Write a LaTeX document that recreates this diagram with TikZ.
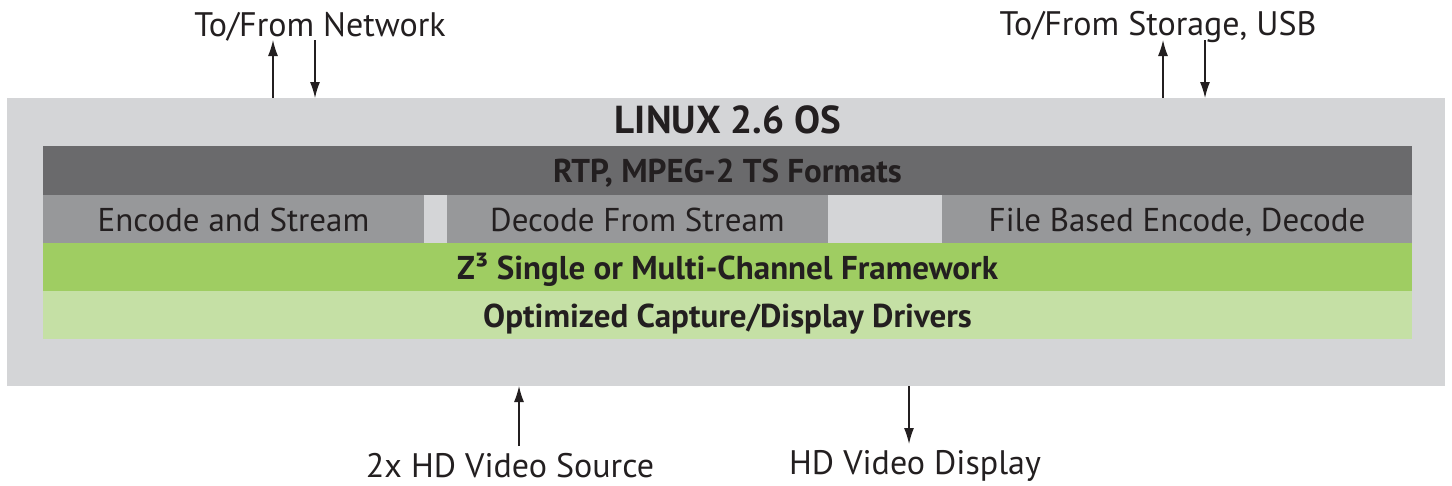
\documentclass[tikz,border=0pt]{standalone}
\usepackage{fontspec}
\setmainfont{PT Sans}
\usetikzlibrary{arrows.meta}
\definecolor{outerbg}{HTML}{D4D5D7}
\definecolor{darkband}{HTML}{6A6A6C}
\definecolor{midband}{HTML}{97989A}
\definecolor{greenband}{HTML}{9FCD62}
\definecolor{lightgreen}{HTML}{C5E0A5}
\definecolor{txt}{HTML}{231F20}
\begin{document}
\begin{tikzpicture}[x=1pt,y=-1pt,
  band/.style={draw=none, inner sep=0pt, outer sep=0pt, anchor=north west, text=txt, text height=25pt, text depth=1pt},
  bandbold/.style={band, font=\fontsize{33}{38}\selectfont\bfseries},
  bandreg/.style={band, font=\fontsize{33}{38}\selectfont},
  lbl/.style={text=txt, font=\fontsize{34}{38}\selectfont, inner sep=0pt},
  arr/.style={line width=1.3pt, draw=txt, -{Latex[length=16pt,width=10pt]}}]
\useasboundingbox (0,0) rectangle (1452,485);
\node[draw=none, fill=outerbg, inner sep=0pt, outer sep=0pt, anchor=north west, minimum width=1438pt, minimum height=288pt] (outer) at (7,98) {};
\node[text=txt, font=\fontsize{39}{44}\selectfont\bfseries, inner sep=0pt] (title) at (728,120) {LINUX 2.6 OS};
\node[bandbold, fill=darkband, minimum width=1369pt, minimum height=49pt] (rtp) at (43,146) {RTP, MPEG-2 TS Formats};
\node[bandreg, fill=midband, minimum width=381pt, minimum height=48pt] (enc) at (43,195) {Encode and Stream};
\node[bandreg, fill=midband, minimum width=381pt, minimum height=48pt] (dec) at (447,195) {Decode From Stream};
\node[bandreg, fill=midband, minimum width=470pt, minimum height=48pt] (file) at (942,195) {File Based Encode, Decode};
\node[bandbold, fill=greenband, minimum width=1369pt, minimum height=48pt] (z3) at (43,243) {Z³ Single or Multi-Channel Framework};
\node[bandbold, fill=lightgreen, minimum width=1369pt, minimum height=48pt] (drv) at (43,291) {Optimized Capture/Display Drivers};
\node[lbl] (net) at (320,27) {To/From Network};
\node[lbl] (sto) at (1158,27) {To/From Storage, USB};
\node[lbl] (src) at (510,466) {2x HD Video Source};
\node[lbl] (disp) at (915,466) {HD Video Display};
\coordinate (netup) at (273,40);
\coordinate (netdn) at (315,40);
\coordinate (stoup) at (1163,40);
\coordinate (stodn) at (1205,40);
\coordinate (srcup) at (519,446);
\coordinate (dispdn) at (909,444);
\draw[arr] (netup |- outer.north) -- (netup);
\draw[arr] (netdn) -- (netdn |- outer.north);
\draw[arr] (stoup |- outer.north) -- (stoup);
\draw[arr] (stodn) -- (stodn |- outer.north);
\draw[arr] (srcup) -- (srcup |- outer.south);
\draw[arr] (dispdn |- outer.south) -- (dispdn);
\end{tikzpicture}
\end{document}
